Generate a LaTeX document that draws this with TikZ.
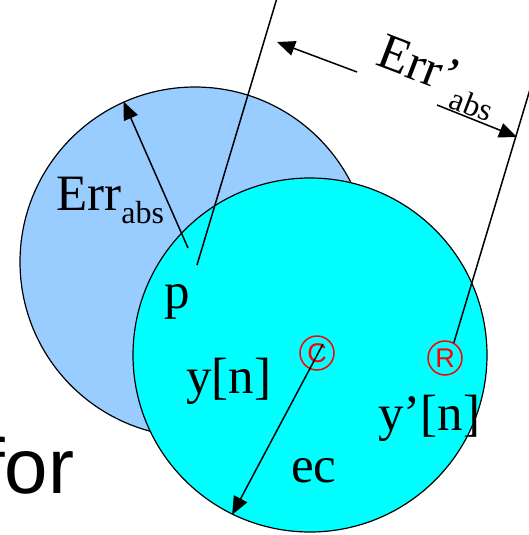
\documentclass[tikz,border=0pt]{standalone}
\usepackage{fontspec}
\setmainfont{Liberation Serif}
\newfontfamily\sansfor{Liberation Sans}
\usetikzlibrary{arrows.meta}
\definecolor{errblue}{RGB}{153,204,255}
\definecolor{curcyan}{RGB}{0,255,255}
\newcommand{\lowtxt}[1]{\raisebox{-13pt}{\fontsize{32}{32}\selectfont #1}}

\begin{document}
\begin{tikzpicture}[
  x=1pt, y=-1pt,
  font=\fontsize{51}{51}\selectfont,
  disc/.style={draw, circle, line width=1.2pt, inner sep=0pt},
  sym/.style={draw=red, circle, line width=1.5pt, minimum size=34pt, inner sep=0pt,
              text=red, font=\sansfor\fontsize{27}{27}\selectfont},
  arr/.style={-{Triangle[length=18pt, width=15pt]}, line width=1.5pt},
  ln/.style={line width=1.5pt},
  lbl/.style={inner sep=0pt, anchor=base west},
]
\useasboundingbox (0,0) rectangle (529,535);
\clip (0,0) rectangle (529,535);
\node[lbl, font=\sansfor\fontsize{78}{78}\selectfont] (forword) at (-17,493) {for};
\node[disc, fill=errblue, minimum size=350pt] (prev) at (195,262) {};
\node[disc, fill=curcyan, minimum size=354pt] (cur) at (310,355) {};
\node[sym] (csym) at (317,353) {C};
\node[sym] (rsym) at (445,358) {R};
\node[lbl] (errabs) at (56,210) {Err\lowtxt{abs}};
\node[lbl] (pp) at (164,308) {p};
\node[lbl] (yn) at (186,393) {y[n]};
\node[lbl] (ynp) at (378,430) {y’[n]};
\node[lbl] (ec) at (291,482) {ec};
\node[rotate=-21, inner sep=0pt] (errp) at (437,78) {Err’\lowtxt{abs}};
\coordinate (errfoot) at (188,248);
\coordinate (pfoot) at (197,265);
\coordinate (ptop) at (277,-2);
\coordinate (rtop) at (531,86);
\coordinate (ecstart) at (323,344);
\coordinate (dl) at (357,72);
\coordinate (dlt) at (277,42);
\coordinate (dr) at (437,105);
\coordinate (drt) at (517,137);
\draw[arr] (errfoot) -- (prev.114);
\draw[ln] (pfoot) -- (ptop);
\draw[ln] (rsym.60) -- (rtop);
\draw[arr] (ecstart) -- (cur.244);
\draw[arr] (dl) -- (dlt);
\draw[arr] (dr) -- (drt);
\end{tikzpicture}
\end{document}
